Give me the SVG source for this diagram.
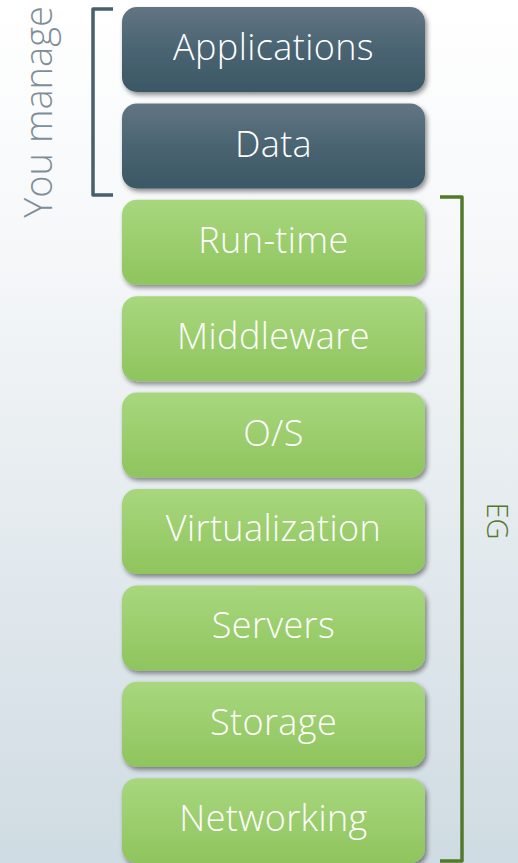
<svg xmlns="http://www.w3.org/2000/svg" width="518" height="863" viewBox="0 0 518 863">
<defs>
<linearGradient id="bg" x1="0" y1="0" x2="0" y2="1">
<stop offset="0" stop-color="#ffffff"/>
<stop offset="0.3" stop-color="#f5f7f9"/>
<stop offset="1" stop-color="#cfdbe2"/>
</linearGradient>
<linearGradient id="dark" x1="0" y1="0" x2="0" y2="1">
<stop offset="0" stop-color="#627582"/>
<stop offset="0.5" stop-color="#4a6472"/>
<stop offset="1" stop-color="#3b5765"/>
</linearGradient>
<linearGradient id="green" x1="0" y1="0" x2="0" y2="1">
<stop offset="0" stop-color="#a8d77e"/>
<stop offset="1" stop-color="#8fc45d"/>
</linearGradient>
<filter id="sh" x="-10%" y="-10%" width="125%" height="130%">
<feGaussianBlur in="SourceAlpha" stdDeviation="2.5"/>
<feOffset dx="1.5" dy="3" result="b"/>
<feComponentTransfer><feFuncA type="linear" slope="0.45"/></feComponentTransfer>
<feMerge><feMergeNode/><feMergeNode in="SourceGraphic"/></feMerge>
</filter>
</defs>
<style>
.lbl{font-family:"Open Sans","Noto Sans","DejaVu Sans",sans-serif;font-size:36px;font-weight:300;letter-spacing:0.4px;fill:#ffffff;text-anchor:middle}
.d{fill:url(#dark);filter:url(#sh)}
.g{fill:url(#green);filter:url(#sh)}
.br{fill:none;stroke-width:3.5;stroke-linejoin:round}
</style>
<rect x="0" y="0" width="518" height="863" fill="url(#bg)"/>
<g id="brackets">
<path class="br" stroke="#46606d" d="M113,9 H93 V195 H113"/>
<path class="br" stroke="#527a2a" d="M440,197 H462 V861 H440"/>
</g>
<text x="52" y="112" transform="rotate(-90 52 112)" font-family="'Open Sans','Noto Sans',sans-serif" font-weight="300" font-size="38" fill="#7f8f99" text-anchor="middle">You manage</text>
<text x="487" y="521" transform="rotate(90 487 521)" font-family="'Open Sans','Noto Sans',sans-serif" font-weight="300" font-size="29" fill="#527a2a" text-anchor="middle">EG</text>
<g id="applications"><rect class="d" x="122" y="7" width="303" height="85" rx="15"/><text class="lbl" x="273.5" y="60">Applications</text></g>
<g id="data"><rect class="d" x="122" y="103.4" width="303" height="85" rx="15"/><text class="lbl" x="273.5" y="156.5">Data</text></g>
<g id="runtime"><rect class="g" x="122" y="199.8" width="303" height="85" rx="15"/><text class="lbl" x="273.5" y="252.5">Run-time</text></g>
<g id="middleware"><rect class="g" x="122" y="296.2" width="303" height="85" rx="15"/><text class="lbl" x="273.5" y="349">Middleware</text></g>
<g id="os"><rect class="g" x="122" y="392.6" width="303" height="85" rx="15"/><text class="lbl" x="273.5" y="445.5">O/S</text></g>
<g id="virtualization"><rect class="g" x="122" y="489" width="303" height="85" rx="15"/><text class="lbl" x="273.5" y="541">Virtualization</text></g>
<g id="servers"><rect class="g" x="122" y="585.4" width="303" height="85" rx="15"/><text class="lbl" x="273.5" y="638">Servers</text></g>
<g id="storage"><rect class="g" x="122" y="681.8" width="303" height="85" rx="15"/><text class="lbl" x="273.5" y="734.5">Storage</text></g>
<g id="networking"><rect class="g" x="122" y="778.2" width="303" height="85" rx="15"/><text class="lbl" x="273.5" y="831">Networking</text></g>
</svg>
